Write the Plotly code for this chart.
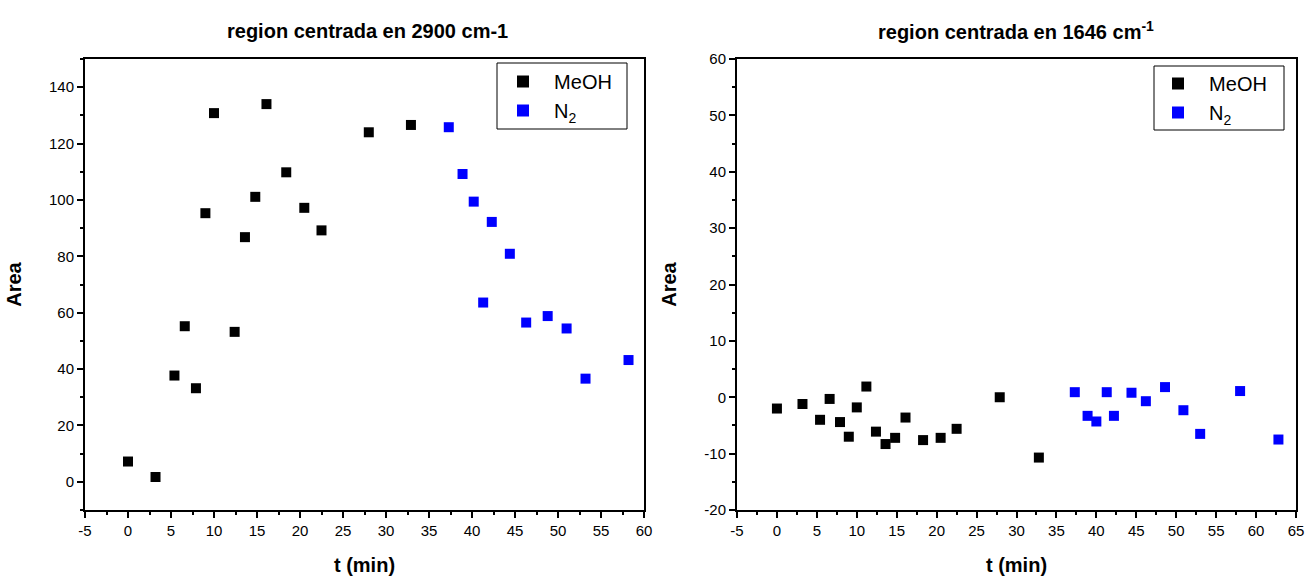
import plotly.graph_objects as go

# Left panel (2900 cm-1)
t_meoh_a = [0, 3.2, 5.4, 6.6, 7.9, 9.0, 10.0, 12.4, 13.6, 14.8, 16.1, 18.4, 20.5, 22.5, 28.0, 32.9]
a_meoh_a = [7.2, 1.7, 37.7, 55.2, 33.2, 95.3, 130.8, 53.2, 86.8, 101.1, 134.0, 109.8, 97.2, 89.2, 124.0, 126.6]
t_n2_a = [37.3, 38.9, 40.2, 41.3, 42.3, 44.4, 46.3, 48.8, 51.0, 53.2, 58.2]
a_n2_a = [125.8, 109.2, 99.4, 63.6, 92.2, 80.9, 56.5, 58.8, 54.4, 36.6, 43.2]

# Right panel (1646 cm-1)
t_meoh_b = [0, 3.2, 5.4, 6.6, 7.9, 9.0, 10.0, 11.2, 12.4, 13.6, 14.8, 16.1, 18.3, 20.5, 22.5, 27.9, 32.8]
a_meoh_b = [-2.0, -1.2, -4.0, -0.3, -4.4, -7.0, -1.8, 1.9, -6.1, -8.3, -7.2, -3.6, -7.6, -7.2, -5.6, 0.0, -10.7]
t_n2_b = [37.3, 38.9, 40.0, 41.3, 42.2, 44.4, 46.2, 48.6, 50.9, 53.0, 58.0, 62.8]
a_n2_b = [0.9, -3.3, -4.3, 0.9, -3.3, 0.8, -0.7, 1.8, -2.3, -6.5, 1.1, -7.5]

# Tick values (hyphen minus as in the original)
xticks_a = list(range(-5, 61, 5))
yticks_a = list(range(0, 141, 20))
xticks_b = list(range(-5, 66, 5))
yticks_b = list(range(-20, 61, 10))

FONT = "Liberation Sans, Arial, sans-serif"
W, H = 1308, 577

def px(x):
    return x / W

def py(y):
    return 1 - y / H

def lbl(vals):
    return [str(v) for v in vals]

fig = go.Figure()
msym = dict(symbol="square", size=10, line=dict(width=0))
NB = "\u00a0\u00a0"
fig.add_trace(go.Scatter(x=t_meoh_a, y=a_meoh_a, mode="markers", name=NB + "MeOH",
                         marker=dict(color="black", **msym), xaxis="x", yaxis="y", legend="legend"))
fig.add_trace(go.Scatter(x=t_n2_a, y=a_n2_a, mode="markers", name=NB + "N<sub>2</sub>",
                         marker=dict(color="#0000ff", **msym), xaxis="x", yaxis="y", legend="legend"))
fig.add_trace(go.Scatter(x=t_meoh_b, y=a_meoh_b, mode="markers", name=NB + "MeOH",
                         marker=dict(color="black", **msym), xaxis="x2", yaxis="y2", legend="legend2"))
fig.add_trace(go.Scatter(x=t_n2_b, y=a_n2_b, mode="markers", name=NB + "N<sub>2</sub>",
                         marker=dict(color="#0000ff", **msym), xaxis="x2", yaxis="y2", legend="legend2"))

axis_common = dict(showline=True, linecolor="black", linewidth=2, mirror=True,
                   ticks="outside", ticklen=6, tickwidth=2, tickcolor="black",
                   showgrid=False, zeroline=False, automargin=False,
                   tickfont=dict(family=FONT, size=15, color="black"))
title_font = dict(family=FONT, size=20, color="black")
minor_c = dict(ticks="outside", ticklen=3, tickwidth=2, tickcolor="black")

ydom = [py(510), py(59)]
legend_common = dict(xanchor="left", yanchor="top", borderwidth=0, bgcolor="rgba(0,0,0,0)",
                     font=dict(family=FONT, size=20, color="black"), itemsizing="constant",
                     tracegroupgap=0, itemwidth=30)
fig.update_layout(
    width=W, height=H,
    margin=dict(l=0, r=0, t=0, b=0, autoexpand=False),
    paper_bgcolor="white", plot_bgcolor="white",
    xaxis=dict(domain=[px(85), px(644)], range=[-5, 60], tickvals=xticks_a, ticktext=lbl(xticks_a), anchor="y",
               minor=dict(dtick=2.5, tick0=0, **minor_c),
               title=dict(text="<b>t (min)</b>", font=title_font, standoff=20), **axis_common),
    yaxis=dict(domain=ydom, range=[-10, 150], tickvals=yticks_a, ticktext=lbl(yticks_a), anchor="x",
               minor=dict(dtick=10, tick0=0, **minor_c),
               title=dict(text="<b>Area</b>", font=title_font, standoff=22), **axis_common),
    xaxis2=dict(domain=[px(737), px(1296)], range=[-5, 65], tickvals=xticks_b, ticktext=lbl(xticks_b), anchor="y2",
                minor=dict(dtick=2.5, tick0=0, **minor_c),
                title=dict(text="<b>t (min)</b>", font=title_font, standoff=20), **axis_common),
    yaxis2=dict(domain=ydom, range=[-20, 60], tickvals=yticks_b, ticktext=lbl(yticks_b), anchor="x2",
                minor=dict(dtick=5, tick0=0, **minor_c),
                title=dict(text="<b>Area</b>", font=title_font, standoff=22), **axis_common),
    legend=dict(x=px(503), y=py(62), **legend_common),
    legend2=dict(x=px(1158), y=py(64), **legend_common),
    showlegend=True,
    shapes=[
        dict(type="rect", xref="paper", yref="paper", x0=px(497), x1=px(627), y0=py(129), y1=py(63),
             line=dict(color="black", width=1), fillcolor="rgba(0,0,0,0)", layer="below"),
        dict(type="rect", xref="paper", yref="paper", x0=px(1154), x1=px(1284), y0=py(130), y1=py(66),
             line=dict(color="black", width=1), fillcolor="rgba(0,0,0,0)", layer="below"),
    ],
    annotations=[
        dict(text="<b>region centrada en 2900 cm-1</b>", x=px(367), y=py(31), xref="paper", yref="paper",
             xanchor="center", yanchor="middle", showarrow=False,
             font=dict(family=FONT, size=20, color="black")),
        dict(text="<b>region centrada en 1646 cm<sup>-1</sup></b>", x=px(1016), y=py(31), xref="paper", yref="paper",
             xanchor="center", yanchor="middle", showarrow=False,
             font=dict(family=FONT, size=20, color="black")),
    ],
)

fig.write_html("out.html")
